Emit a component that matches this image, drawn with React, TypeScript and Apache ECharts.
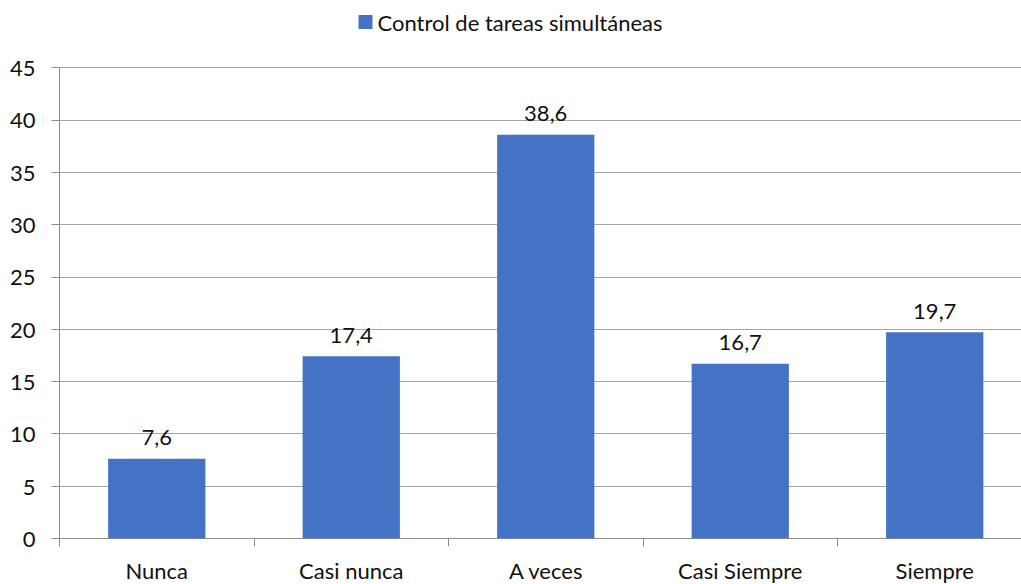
import React, { useEffect, useRef } from "react";
import * as echarts from "echarts";

const categories = ["Nunca", "Casi nunca", "A veces", "Casi Siempre", "Siempre"];
const values = [7.6, 17.4, 38.6, 16.7, 19.7];
const seriesName = "Control de tareas simultáneas";

export default function App() {
  const ref = useRef<HTMLDivElement>(null);
  useEffect(() => {
    if (!ref.current) return;
    const chart = echarts.init(ref.current, null, { renderer: "svg" });
    const font = "Lato, 'Open Sans', sans-serif";
    chart.setOption({
      animation: false,
      textStyle: { fontFamily: font },
      legend: {
        top: 6,
        left: "center",
        itemWidth: 14,
        itemHeight: 14,
        itemGap: 6,
        icon: "rect",
        textStyle: { fontSize: 22, color: "#111", fontFamily: font },
        data: [seriesName],
      },
      grid: { left: 59.5, top: 67.7, right: -11, bottom: 45.7, outerBoundsMode: "none" },
      xAxis: {
        type: "category",
        data: categories,
        axisLine: { lineStyle: { color: "#8c8c8c", width: 1 } },
        axisTick: { show: true, length: 8, lineStyle: { color: "#8c8c8c" } },
        axisLabel: { fontSize: 22, color: "#111", margin: 21, fontFamily: font },
      },
      yAxis: {
        type: "value",
        min: 0,
        max: 45,
        interval: 5,
        axisLine: { show: true, lineStyle: { color: "#8c8c8c", width: 1 } },
        axisTick: { show: true, length: 8, lineStyle: { color: "#8c8c8c" } },
        splitLine: { lineStyle: { color: "#a6a6a6", width: 1 } },
        axisLabel: { fontSize: 22, color: "#111", margin: 24, fontFamily: font },
      },
      series: [
        {
          name: seriesName,
          type: "bar",
          data: values,
          barCategoryGap: "50%",
          itemStyle: { color: "#4472C4" },
          label: {
            show: true,
            position: "top",
            distance: 11,
            fontSize: 22,
            color: "#111",
            fontFamily: font,
            formatter: (p: any) => String(p.value).replace(".", ","),
          },
        },
      ],
    });
    return () => chart.dispose();
  }, []);
  return (
    <div
      ref={ref}
      style={{ position: "fixed", left: 0, top: 0, width: 1021, height: 584, background: "#fff" }}
    />
  );
}
